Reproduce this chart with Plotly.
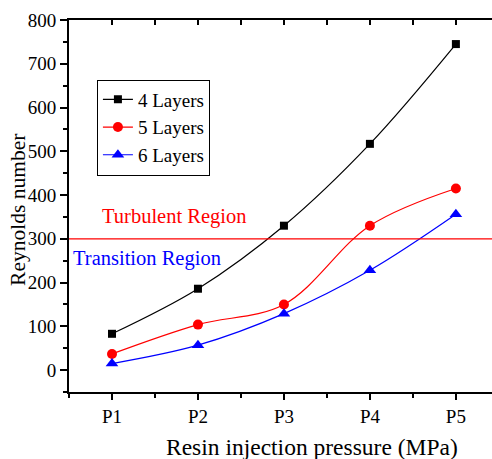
import plotly.graph_objects as go

categories = ["P1", "P2", "P3", "P4", "P5"]
xpos = [1, 2, 3, 4, 5]
layers4 = [83, 186, 330, 517, 745]
layers5 = [37, 104, 150, 330, 415]
layers6 = [15, 57, 129, 228, 356]
threshold = 300

FONT = "Liberation Serif"

fig = go.Figure()
series = [
    ("4 Layers", layers4, "black", "square", 8),
    ("5 Layers", layers5, "red", "circle", 10),
    ("6 Layers", layers6, "blue", "triangle-up", 11),
]
for name, vals, col, sym, sz in series:
    fig.add_trace(go.Scatter(
        x=xpos, y=vals, name=name, mode="lines+markers",
        line=dict(color=col, width=1.2, shape="spline", smoothing=1.0),
        marker=dict(color=col, symbol=sym, size=sz),
    ))

fig.add_shape(type="line", xref="paper", x0=0, x1=1, yref="y", y0=threshold, y1=threshold,
              line=dict(color="red", width=1.2))

fig.add_annotation(x=1.72, y=352, text="Turbulent Region", showarrow=False,
                   font=dict(family=FONT, size=20.5, color="red"))
fig.add_annotation(x=1.41, y=255, text="Transition Region", showarrow=False,
                   font=dict(family=FONT, size=20.5, color="blue"))
fig.add_annotation(xref="paper", yref="paper", x=0.575, y=-0.147, yanchor="middle",
                   text="Resin injection pressure (MPa)", showarrow=False,
                   font=dict(family=FONT, size=23.5, color="black"))
fig.add_annotation(xref="paper", yref="paper", x=-0.121, y=0.489, xanchor="center", yanchor="middle",
                   text="Reynolds number", textangle=-90, showarrow=False,
                   font=dict(family=FONT, size=21.5, color="black"))

fig.update_layout(
    width=492, height=459,
    margin=dict(l=69, r=0, t=20, b=67),
    paper_bgcolor="white", plot_bgcolor="white",
    font=dict(family=FONT, size=17, color="black"),
    showlegend=True,
    legend=dict(x=0.066, y=0.84, xanchor="left", yanchor="top",
                bordercolor="black", borderwidth=1, bgcolor="white",
                font=dict(family=FONT, size=19), tracegroupgap=0,
                itemwidth=30),
    xaxis=dict(range=[0.5, 5.42], tickvals=xpos, ticktext=categories,
               showgrid=False, zeroline=False, showline=True, linecolor="black", linewidth=2,
               ticks="outside", ticklen=6, tickwidth=1.5, tickcolor="black",
               minor=dict(dtick=0.5, tick0=0.5, ticks="outside", ticklen=4, tickwidth=1.5, tickcolor="black"),
               tickfont=dict(family=FONT, size=19)),
    xaxis2=dict(range=[0.5, 5.42], overlaying="x", side="top", showticklabels=False,
                showgrid=False, zeroline=False, showline=True, linecolor="black", linewidth=2,
                tickmode="linear", tick0=0.5, dtick=0.5,
                ticks="inside", ticklen=5, tickwidth=1.5, tickcolor="black"),
    yaxis=dict(range=[-50, 800], tickvals=[0, 100, 200, 300, 400, 500, 600, 700, 800],
               showgrid=False, zeroline=False, showline=True, linecolor="black", linewidth=2,
               ticks="outside", ticklen=7, tickwidth=1.5, tickcolor="black",
               minor=dict(dtick=50, tick0=0, ticks="outside", ticklen=4, tickwidth=1.5, tickcolor="black"),
               tickfont=dict(family=FONT, size=19)),
)
# dummy trace to activate top axis
fig.add_trace(go.Scatter(x=[1], y=[None], xaxis="x2", showlegend=False, hoverinfo="skip"))

fig.write_html("out.html")
